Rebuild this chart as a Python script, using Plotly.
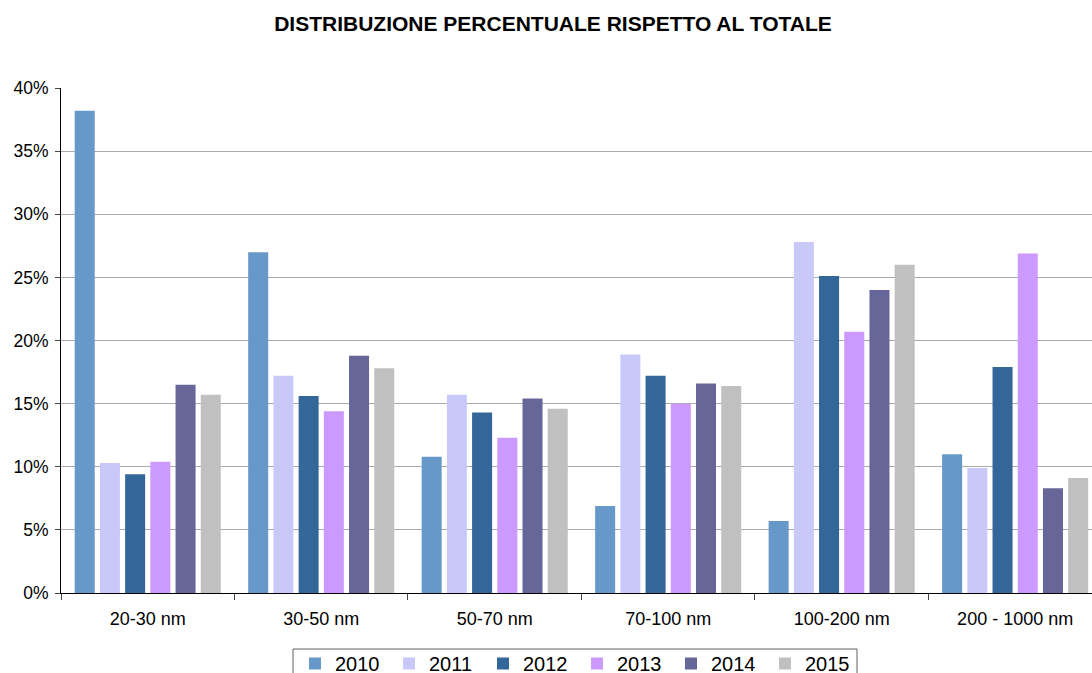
import plotly.graph_objects as go

categories = ["20-30 nm", "30-50 nm", "50-70 nm", "70-100 nm", "100-200 nm", "200 - 1000 nm"]
years = ["2010", "2011", "2012", "2013", "2014", "2015"]
v2010 = [38.2, 27.0, 10.8, 6.9, 5.7, 11.0]
v2011 = [10.3, 17.2, 15.7, 18.9, 27.8, 9.9]
v2012 = [9.4, 15.6, 14.3, 17.2, 25.1, 17.9]
v2013 = [10.4, 14.4, 12.3, 15.0, 20.7, 26.9]
v2014 = [16.5, 18.8, 15.4, 16.6, 24.0, 8.3]
v2015 = [15.7, 17.8, 14.6, 16.4, 26.0, 9.1]
series = [v2010, v2011, v2012, v2013, v2014, v2015]
colors = ["#6698C9", "#C9C9F9", "#336699", "#CC99FF", "#666699", "#C0C0C0"]

fig = go.Figure()
for name, vals, col in zip(years, series, colors):
    fig.add_trace(go.Bar(x=categories, y=vals, name=name, marker=dict(color=col, line=dict(width=0))))

W, H = 1092, 673
L, T, B = 61, 88, 80
pw, ph = W - L, H - T - B

font_family = "Liberation Sans, Arial, sans-serif"
fig.update_layout(
    width=W, height=H,
    margin=dict(l=L, r=0, t=T, b=B, autoexpand=False),
    paper_bgcolor="white", plot_bgcolor="white",
    barmode="group", bargap=0.128, bargroupgap=0.206,
    font=dict(family=font_family, color="black", size=17.5),
    title=dict(text="<b>DISTRIBUZIONE PERCENTUALE RISPETTO AL TOTALE</b>",
               x=553/W, xanchor="center", y=1-24/H, yanchor="middle",
               font=dict(size=21, family=font_family, color="black")),
    showlegend=True,
    legend=dict(orientation="h", x=(295-L)/pw, xanchor="left", y=(593-644)/ph, yanchor="top",
                borderwidth=0, bgcolor="rgba(0,0,0,0)", font=dict(size=20, family=font_family),
                entrywidth=49, entrywidthmode="pixels", traceorder="normal",
                itemwidth=30, tracegroupgap=0),
    shapes=[dict(type="rect", xref="paper", yref="paper",
                 x0=(293-L)/pw, x1=(857-L)/pw, y0=(593-690)/ph, y1=(593-649)/ph,
                 line=dict(color="#606060", width=1), fillcolor="rgba(0,0,0,0)", layer="below")],
)
fig.update_xaxes(
    range=[-0.5, 5.443], showline=True, linecolor="black", linewidth=1,
    ticks="outside", tickson="boundaries", ticklen=6, tickcolor="#444",
    showgrid=False, tickfont=dict(size=18), fixedrange=True, automargin=False,
    ticklabelstandoff=9,
)
fig.update_yaxes(
    range=[0, 40], dtick=5, ticksuffix="%", showline=True, linecolor="black", linewidth=1,
    ticks="outside", ticklen=5, tickcolor="#444", showgrid=True, gridcolor="#AAAAAA", gridwidth=1,
    tickfont=dict(size=17.5), zeroline=False, automargin=False, ticklabelstandoff=3,
)

fig.write_html("out.html", config={"displayModeBar": False},
               post_script="document.body.style.margin='0';document.body.style.overflow='hidden';")
